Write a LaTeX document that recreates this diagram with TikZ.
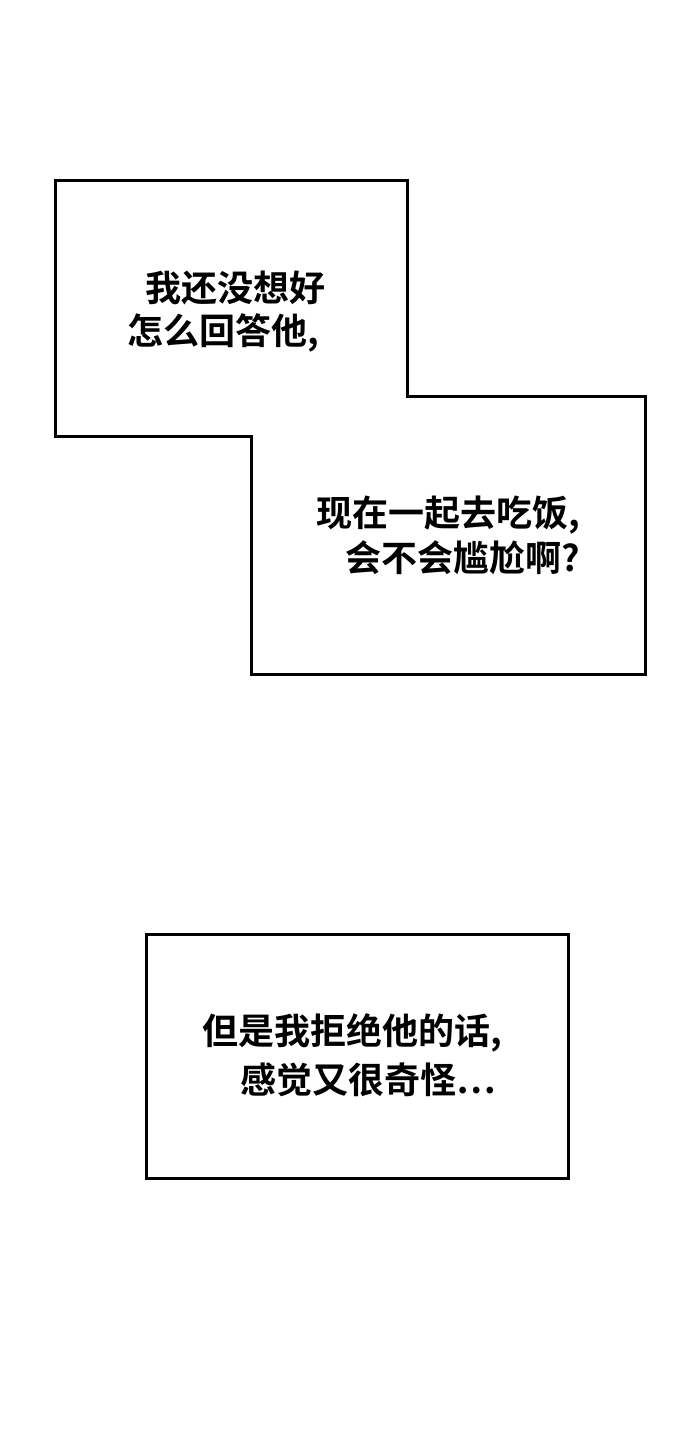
\documentclass[tikz,border=0pt]{standalone}
\usepackage{fontspec}
\newfontfamily\cjk{Noto Sans CJK SC Bold}
\begin{document}
\begin{tikzpicture}[x=1pt,y=-1pt,
  box/.style={draw=black,line width=3pt,line join=miter},
  txt/.style={anchor=west,inner sep=0pt,font=\cjk\fontsize{36}{36}\selectfont}]
\useasboundingbox[fill=white] (0,0) rectangle (690,1446);
\draw[box] (55,180) -- (407,180) -- (407,396) -- (645,396) -- (645,674) -- (251,674) -- (251,436) -- (55,436) -- cycle;
\draw[box] (146,934) rectangle (568,1178);
\node[txt] (a1) at (145,288) {我还没想好};
\node[txt] (a2) at (127,333) {怎么回答他,};
\node[txt] (b1) at (316,515) {现在一起去吃饭,};
\node[txt] (b2) at (345,558) {会不会尴尬啊?};
\node[txt] (c1) at (202,1033) {但是我拒绝他的话,};
\node[txt] (c2) at (240,1080) {感觉又很奇怪…};
\end{tikzpicture}
\end{document}
